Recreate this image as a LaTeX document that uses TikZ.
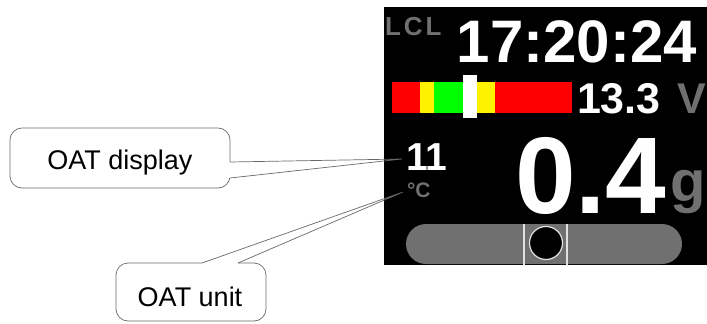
\documentclass[tikz,border=0pt]{standalone}
\usepackage{fontspec}
\setmainfont{Liberation Sans}
\usepackage{tikz}

\definecolor{scrgray}{RGB}{112,112,112}
\definecolor{callgray}{RGB}{105,105,105}
\definecolor{ringgray}{RGB}{225,225,225}
\newcommand{\scrfont}[1]{\fontsize{#1}{#1}\selectfont\bfseries}

\tikzset{
  scrtext/.style={inner sep=0pt, outer sep=0pt, text=white, anchor=base west},
  dimtext/.style={scrtext, text=scrgray},
  callbox/.style={draw=callgray, fill=white, line width=0.7pt, rounded corners=12pt, inner sep=0pt},
  calltext/.style={inner sep=0pt, anchor=base, font=\fontsize{27}{30}\selectfont},
  callline/.style={draw=callgray, line width=0.7pt}
}

\begin{document}
\begin{tikzpicture}[x=1pt,y=-1pt]
\useasboundingbox (0,0) rectangle (707,324);
\fill[black] (384,7) rectangle (707,265);
\node[dimtext, font=\scrfont{26}] (lcl) at (385,35) {L\kern3pt C\kern3pt L};
\node[scrtext, anchor=base east, font=\scrfont{60}] (clock) at (697,62) {17:20:24};
\foreach \xa/\xb/\c in {392/420/red, 420/434/yellow, 434/470/green, 470/495/yellow, 495/572/red}
	\fill[\c] (\xa,82) rectangle (\xb,113);
\fill[white] (463,75) rectangle (477,118);
\node[scrtext, font=\scrfont{43}] (volts) at (577,113) {13.3};
\node[dimtext, font=\scrfont{43}] (vunit) at (677,113) {V};
\node[scrtext, font=\scrfont{39}] (oat) at (406,170) {11};
\node[dimtext, font=\scrfont{21}] (oatunit) at (407,197) {°C};
\node[scrtext, font=\scrfont{109}] (gval) at (515,213) {0.4};
\node[dimtext, font=\scrfont{58}] (gunit) at (670,201) {g};
\fill[scrgray, rounded corners=20pt] (406,224) rectangle (682,264);
\foreach \x in {524,567}
	\draw[ringgray, line width=2pt] (\x,224) -- (\x,265);
\draw[ringgray, line width=1.2pt, fill=black] (546,243) circle (16.5pt);

\node[callbox, minimum width=220pt, minimum height=60pt] (dispbox) at (120,158) {};
\node[calltext] (disptext) at (120,169) {OAT display};
\coordinate (dispa) at (230,162);
\coordinate (dispb) at (230,178);
\coordinate (disptip) at (402,159);
\fill[white] ([xshift=-1.5pt]dispa) rectangle ([xshift=1pt]dispb);
\draw[callline] (dispa) -- (disptip) -- (dispb);

\node[callbox, minimum width=150pt, minimum height=58pt] (unitbox) at (191,292) {};
\node[calltext] (unittext) at (190,306) {OAT unit};
\coordinate (unita) at (202,263);
\coordinate (unitb) at (238,263);
\coordinate (unittip) at (403,192);
\fill[white] ([yshift=-1pt]unita) rectangle ([yshift=1.5pt]unitb);
\draw[callline] (unita) -- (unittip) -- (unitb);
\end{tikzpicture}
\end{document}
